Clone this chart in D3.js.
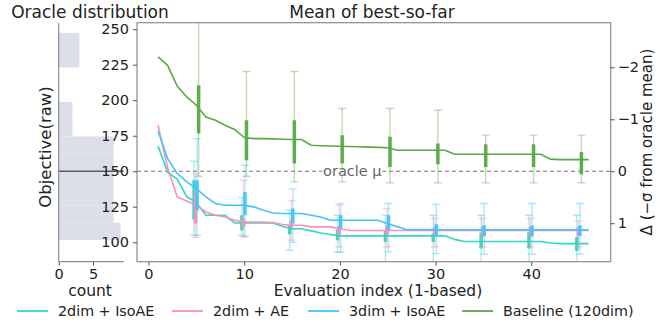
<!DOCTYPE html>
<html>
<head>
<meta charset="utf-8">
<script src="https://cdn.jsdelivr.net/npm/d3@7"></script>
<style>
  body { margin: 0; background: #fff; }
  svg text { font-family: "DejaVu Sans", sans-serif; fill: #222; }
</style>
</head>
<body>
<div id="chart"></div>
<script>
// ---- data ----
var iters = d3.range(1, 47);
var checkpoints = [5, 10, 15, 20, 25, 30, 35, 40, 45];

var seriesNames = ["2dim + IsoAE", "2dim + AE", "3dim + IsoAE", "Baseline (120dim)"];
var seriesColors = ["#2fd8bf", "#ff8db8", "#45c3ff", "#5aa846"];

var iso2 = [167.7,149.3,144.5,132,128,119,119,119,113.6,113.6,
            113.6,113.6,113.6,111.3,109.5,109.5,108,106.5,105.5,104.5,
            104.5,104.5,104.5,104.5,104.5,104.5,104.5,104.5,104.5,104.5,
            104.5,102,100.5,100.5,100.5,100.5,100.5,100.5,100.5,100.5,
            100.5,99.5,99,99,99,99];
var ae2 = [182.4,152.6,131.9,129.1,126.1,121.3,119,117.8,115.5,114.3,
           114.3,114.3,113.9,112.5,112,112,110.8,110.8,110.8,109.5,
           108.3,108.3,108.3,108.3,108.3,108.3,108.3,108.3,108.3,108.3,
           108.3,108.3,108.3,108.3,108.3,108.3,108.3,108.3,108.3,108.3,
           108.3,108.3,108.3,108.3,108.3,108.3];
var iso3 = [178.4,158.9,148.4,142.5,137.8,131.9,127.3,126.1,126.1,126.1,
            124.9,122.5,120.6,120.2,120.2,120.2,119,117.8,115.5,115.5,
            115.5,115.5,115.5,115.5,113,111,108.8,108.8,108.8,108.8,
            108.8,108.8,108.8,108.8,108.8,108.8,108.8,108.8,108.8,108.8,
            108.8,108.8,108.8,108.8,108.8,108.8];
var base = [230.5,224.6,210,202.3,196.5,188.2,185.9,182.4,179.4,173.7,
            173,173,172.8,172.5,172.3,172.3,168.3,168,167.8,167.6,
            167.4,167.2,167,166.8,166.5,164.8,164.8,164.8,164.8,164.8,
            164.8,162,162,162,162,162,162,162,162,162,
            162,158.5,158.2,158.2,158.2,158.2];

// whiskers (thin) and boxes (thick) at each checkpoint
var iso2Hi = [157,131.5,122.5,119,119,119,119,119,119];
var iso2Lo = [104.9,104.9,94.4,93,86,86,86,86,86];
var iso2BoxHi = [143.7,119,112,108.9,108.5,106.1,106.6,107.3,103.7];
var iso2BoxLo = [116,108.5,105.6,101.4,100.2,100.2,95.6,95.6,93.9];

var ae2Hi = [148.4,143.7,129.4,126.1,123.7,116.7,116.7,116.7,115];
var ae2Lo = [103.5,103.7,101.4,96.7,96.7,96.7,96.7,96.7,96.7];
var ae2BoxHi = [136.6,116.7,115.5,111.3,112,110.8,110.8,110.8,110.5];
var ae2BoxLo = [113.2,110.8,110.3,104.9,104.9,104.9,104.2,104.2,104.5];

var iso3Hi = [173,154.2,137.5,127.3,127.3,126.8,127.3,127.3,127.3];
var iso3Lo = [104.9,104,100,93,93.2,92,91.5,91.5,91.5];
var iso3BoxHi = [143.7,135.4,123.7,119,119,112.7,112,112,112];
var iso3BoxLo = [122.5,119,113.2,109.6,108.5,104.9,104.2,104.2,104.2];

var baseHi = [262,220.2,220.2,194.2,194.2,193,175.4,175.4,175.4];
var baseLo = [146.5,146.5,142.5,142.5,141.8,141.8,141.8,141.8,141.8];
var baseBoxHi = [210.6,185.9,185.9,175.4,174.2,169.5,169,169,163.6];
var baseBoxLo = [176.5,157.7,155.4,155.4,153,154.9,153,153,147.9];

// oracle histogram
var binEdges = [101.6,113.75,125.9,138.05,150.2,162.35,174.5,186.65,198.8,210.95,223.1,235.25,247.4];
var binCounts = [9,8,8,8,8,8,2,2,0,0,3,3];
var oracleMean = 150;
var oracleSigma = 36.6;

var yTicks = [100, 125, 150, 175, 200, 225, 250];
var xTicks = [0, 10, 20, 30, 40];
var sigmaTicks = [-2, -1, 0, 1];
var countTicks = [0, 5];

function draw() {
  var W = 662, H = 320;
  var svg = d3.select("#chart").append("svg").attr("width", W).attr("height", H);

  var pTop = 22.7, pBot = 261.7, pLeft = 137, pRight = 610.7;
  var y = d3.scaleLinear().domain([86.3, 254.6]).range([pBot, pTop]);
  var x = d3.scaleLinear().domain([-1.2, 48.3]).range([pLeft, pRight]);
  var xh = d3.scaleLinear().domain([0, 9.45]).range([58.7, 123.6]);
  var ys = d3.scaleLinear()
    .domain([(oracleMean - 254.6) / oracleSigma, (oracleMean - 86.3) / oracleSigma])
    .range([pTop, pBot]);

  var spine = "#8c8c8c";

  // histogram panel
  var hist = svg.append("g");
  hist.selectAll("rect").data(binCounts).enter().append("rect")
    .attr("x", xh(0))
    .attr("y", function(d, i) { return y(binEdges[i + 1]); })
    .attr("width", function(d) { return xh(d) - xh(0); })
    .attr("height", function(d, i) { return y(binEdges[i]) - y(binEdges[i + 1]); })
    .attr("fill", "#dcdfe7");
  hist.append("line")
    .attr("x1", xh(0)).attr("x2", xh(9.45))
    .attr("y1", y(oracleMean)).attr("y2", y(oracleMean))
    .attr("stroke", "#555c66").attr("stroke-width", 1.3);
  hist.append("g").attr("transform", "translate(0," + pBot + ")")
    .call(d3.axisBottom(xh).tickValues(countTicks).tickSize(4).tickPadding(3));
  hist.append("line").attr("x1", xh(0)).attr("x2", xh(9.45)).attr("y1", pBot).attr("y2", pBot)
    .attr("stroke", spine).attr("stroke-width", 1.2);
  hist.append("line").attr("x1", xh(0)).attr("x2", xh(0)).attr("y1", pTop).attr("y2", pBot)
    .attr("stroke", spine).attr("stroke-width", 1.2);

  // main panel
  svg.append("clipPath").attr("id", "plotclip").append("rect")
    .attr("x", pLeft).attr("y", pTop).attr("width", pRight - pLeft).attr("height", pBot - pTop);
  var plot = svg.append("g").attr("clip-path", "url(#plotclip)");

  plot.append("line")
    .attr("x1", pLeft).attr("x2", pRight)
    .attr("y1", y(oracleMean)).attr("y2", y(oracleMean))
    .attr("stroke", "#777").attr("stroke-width", 1.2).attr("stroke-dasharray", "4,3");
  var lbl = plot.append("g").attr("transform", "translate(" + x(21.3) + "," + y(oracleMean) + ")");
  lbl.append("rect").attr("x", -30).attr("y", -8).attr("width", 60).attr("height", 16).attr("fill", "#fff");
  lbl.append("text").attr("text-anchor", "middle").attr("dy", "0.35em")
    .style("font-size", "14.5px").style("fill", "#666").text("oracle \u03bc");

  var series = [
    {vals: iso2, hi: iso2Hi, lo: iso2Lo, bhi: iso2BoxHi, blo: iso2BoxLo, off: -0.24},
    {vals: ae2, hi: ae2Hi, lo: ae2Lo, bhi: ae2BoxHi, blo: ae2BoxLo, off: -0.08},
    {vals: iso3, hi: iso3Hi, lo: iso3Lo, bhi: iso3BoxHi, blo: iso3BoxLo, off: 0.08},
    {vals: base, hi: baseHi, lo: baseLo, bhi: baseBoxHi, blo: baseBoxLo, off: 0.24}
  ];

  var line = d3.line().x(function(d, i) { return x(iters[i]); }).y(function(d) { return y(d); });

  series.forEach(function(s, k) {
    var c = seriesColors[k];
    var g = plot.append("g");
    g.append("path").datum(s.vals).attr("d", line)
      .attr("fill", "none").attr("stroke", c).attr("stroke-width", 1.6);
    checkpoints.forEach(function(cp, j) {
      var cx = x(cp + s.off);
      g.append("line").attr("x1", cx).attr("x2", cx)
        .attr("y1", y(s.hi[j])).attr("y2", y(s.lo[j]))
        .attr("stroke", c).attr("stroke-opacity", 0.4).attr("stroke-width", 1.4);
      [s.hi[j], s.lo[j]].forEach(function(v) {
        g.append("line").attr("x1", cx - 4).attr("x2", cx + 4)
          .attr("y1", y(v)).attr("y2", y(v))
          .attr("stroke", c).attr("stroke-opacity", 0.4).attr("stroke-width", 1.4);
      });
      g.append("line").attr("x1", cx).attr("x2", cx)
        .attr("y1", y(s.bhi[j])).attr("y2", y(s.blo[j]))
        .attr("stroke", c).attr("stroke-opacity", 0.95).attr("stroke-width", 3.5);
    });
  });

  svg.append("rect").attr("x", pLeft).attr("y", pTop).attr("width", pRight - pLeft).attr("height", pBot - pTop)
    .attr("fill", "none").attr("stroke", spine).attr("stroke-width", 1.2);

  svg.append("g").attr("transform", "translate(" + pLeft + ",0)")
    .call(d3.axisLeft(y).tickValues(yTicks).tickSize(4).tickPadding(4));
  svg.append("g").attr("transform", "translate(0," + pBot + ")")
    .call(d3.axisBottom(x).tickValues(xTicks).tickSize(4).tickPadding(3));
  svg.append("g").attr("transform", "translate(" + pRight + ",0)")
    .call(d3.axisRight(ys).tickValues(sigmaTicks).tickSize(4).tickPadding(3)
      .tickFormat(d3.format("d")));

  svg.selectAll(".domain").remove();
  svg.selectAll(".tick line").attr("stroke", "#555");
  svg.selectAll(".tick text").style("font-size", "14.5px").style("font-family", "DejaVu Sans, sans-serif").attr("fill", "#222");

  // titles and labels
  svg.append("text").attr("x", 90).attr("y", 18).attr("text-anchor", "middle")
    .style("font-size", "17px").text("Oracle distribution");
  svg.append("text").attr("x", 372).attr("y", 18).attr("text-anchor", "middle")
    .style("font-size", "17px").text("Mean of best-so-far");
  svg.append("text").attr("transform", "translate(51,147) rotate(-90)").attr("text-anchor", "middle")
    .style("font-size", "16.5px").text("Objective(raw)");
  svg.append("text").attr("x", 90).attr("y", 296).attr("text-anchor", "middle")
    .style("font-size", "15.5px").text("count");
  svg.append("text").attr("x", 378).attr("y", 296).attr("text-anchor", "middle")
    .style("font-size", "15.5px").text("Evaluation index (1-based)");
  svg.append("text").attr("transform", "translate(652,142) rotate(-90)").attr("text-anchor", "middle")
    .style("font-size", "15px").text("\u0394 (\u2212\u03c3 from oracle mean)");

  // legend
  var legX = [17, 172, 308, 462];
  var leg = svg.append("g").attr("transform", "translate(0,311)");
  seriesNames.forEach(function(n, k) {
    leg.append("line").attr("x1", legX[k]).attr("x2", legX[k] + 31).attr("y1", 0).attr("y2", 0)
      .attr("stroke", seriesColors[k]).attr("stroke-width", 1.8);
    leg.append("text").attr("x", legX[k] + 41).attr("dy", "0.35em")
      .style("font-size", "14.3px").text(n);
  });
}

draw();
</script>
</body>
</html>
